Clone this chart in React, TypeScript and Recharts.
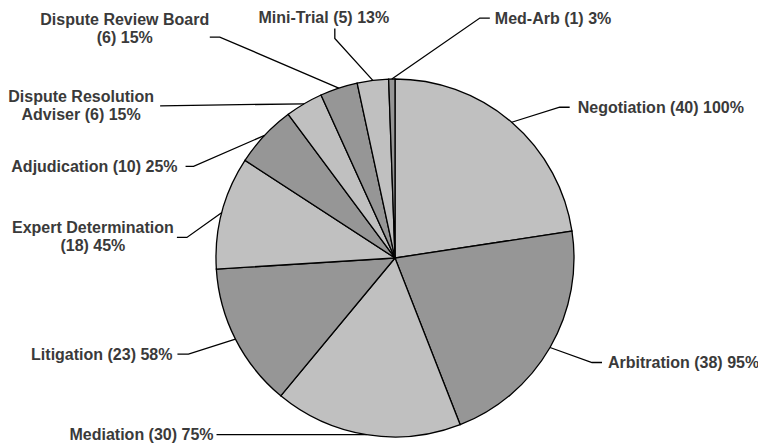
import React from "react";
import { PieChart, Pie, Cell } from "recharts";

const categories = [
  "Negotiation",
  "Arbitration",
  "Mediation",
  "Litigation",
  "Expert Determination",
  "Adjudication",
  "Dispute Resolution Adviser",
  "Dispute Review Board",
  "Mini-Trial",
  "Med-Arb",
];
const counts = [40, 38, 30, 23, 18, 10, 6, 6, 5, 1];
const percents = [100, 95, 75, 58, 45, 25, 15, 15, 13, 3];
const labelLines: string[][] = [
  ["Negotiation (40) 100%"],
  ["Arbitration (38) 95%"],
  ["Mediation (30) 75%"],
  ["Litigation (23) 58%"],
  ["Expert Determination", "(18) 45%"],
  ["Adjudication (10) 25%"],
  ["Dispute Resolution", "Adviser (6) 15%"],
  ["Dispute Review Board", "(6) 15%"],
  ["Mini-Trial (5) 13%"],
  ["Med-Arb (1) 3%"],
];

// leader-line layout relative to the slice edge point
type Lay = { ex: number; ey: number; hx: number; hy: number; anchor: "start" | "end" | "middle"; tx: number; ty: number };
const layout: Lay[] = [
  { ex: 48, ey: -15, hx: 10, hy: 0, anchor: "start", tx: 8, ty: 0 },
  { ex: 42, ey: 15, hx: 10, hy: 0, anchor: "start", tx: 6, ty: 0 },
  { ex: 0, ey: 0, hx: -150, hy: 0, anchor: "end", tx: -3, ty: 0 },
  { ex: -47, ey: 15, hx: -11, hy: 0, anchor: "end", tx: -5, ty: 0 },
  { ex: -35, ey: 25, hx: -10, hy: 0, anchor: "middle", tx: -84, ty: -10 },
  { ex: -71, ey: 31, hx: -8, hy: 0, anchor: "end", tx: -8, ty: 0 },
  { ex: -144, ey: 2, hx: 0, hy: 0, anchor: "middle", tx: -79, ty: -10 },
  { ex: -119, ey: -51, hx: -10, hy: 0, anchor: "middle", tx: -85, ty: -18 },
  { ex: -38, ey: -42, hx: 0, hy: -10, anchor: "middle", tx: -11, ty: -11 },
  { ex: 88, ey: -61, hx: 10, hy: 0, anchor: "start", tx: 5, ty: 0 },
];

const colors = ["#c0c0c0", "#969696"];

const data = categories.map((name, i) => ({ name, value: counts[i], pct: percents[i] }));

const RAD = Math.PI / 180;

const renderLabel = (props: any) => {
  const { cx, cy, midAngle, outerRadius, index } = props;
  const lay = layout[index];
  const sx = cx + outerRadius * Math.cos(-midAngle * RAD);
  const sy = cy + outerRadius * Math.sin(-midAngle * RAD);
  const mx = sx + lay.ex;
  const my = sy + lay.ey;
  const exx = mx + lay.hx;
  const eyy = my + lay.hy;
  const tx = exx + lay.tx;
  const ty = eyy + lay.ty;
  const lines = labelLines[index];
  return (
    <g key={`lbl-${index}`}>
      <polyline
        points={`${sx},${sy} ${mx},${my} ${exx},${eyy}`}
        fill="none"
        stroke="#000"
        strokeWidth={1.3}
      />
      {lines.map((t, k) => (
        <text
          key={k}
          x={tx}
          y={ty + k * 18}
          dy="0.36em"
          textAnchor={lay.anchor}
          fontFamily="'Liberation Sans', Arial, sans-serif"
          fontWeight="bold"
          fontSize={16}
          fill="#3a3a3a"
        >
          {t}
        </text>
      ))}
    </g>
  );
};

export default function App() {
  return (
    <div style={{ position: "absolute", left: 0, top: 0, width: 758, height: 443, background: "#fff" }}>
      <PieChart width={758} height={443} margin={{ top: 0, right: 0, bottom: 0, left: 0 }}>
        <Pie
          data={data}
          dataKey="value"
          nameKey="name"
          cx={395}
          cy={258}
          outerRadius={179}
          startAngle={90}
          endAngle={-270}
          stroke="#000"
          strokeWidth={1.3}
          label={renderLabel}
          labelLine={false}
          isAnimationActive={false}
        >
          {data.map((d, i) => (
            <Cell key={d.name} fill={colors[i % 2]} />
          ))}
        </Pie>
      </PieChart>
    </div>
  );
}
